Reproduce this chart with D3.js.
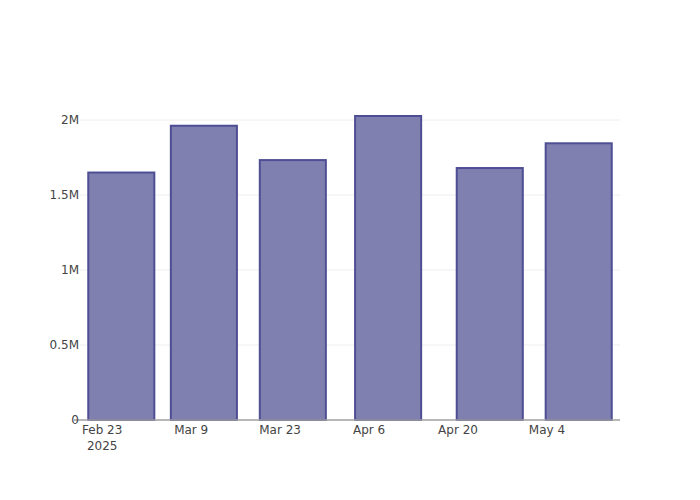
<!DOCTYPE html>
<html><head><meta charset="utf-8">
<script src="https://cdn.jsdelivr.net/npm/d3@7"></script>
<style>body{margin:0;background:#fff}svg text{font-family:"DejaVu Sans",Verdana,sans-serif}</style>
</head><body><svg id="c" width="700" height="500"></svg>
<script>
const dates = ["2025-02-26","2025-03-11","2025-03-25","2025-04-09","2025-04-25","2025-05-09"];
const values = [1650000,1962000,1733000,2027000,1680000,1845000];
const yTicks = [0,500000,1000000,1500000,2000000];
const yTickLabels = ["0","0.5M","1M","1.5M","2M"];
const xTicks = ["2025-02-23","2025-03-09","2025-03-23","2025-04-06","2025-04-20","2025-05-04"];
const xTickLabels = ["Feb 23","Mar 9","Mar 23","Apr 6","Apr 20","May 4"];

const DAY = 86400000;
const parse = d3.utcParse("%Y-%m-%d");
const d = dates.map(parse);
const svg = d3.select("#c");
const L=80,R=620,T=100,B=420;
const gapDays = 13;
const x = d3.scaleUtc()
  .domain([new Date(+d[0]-gapDays/2*DAY), new Date(+d[d.length-1]+gapDays/2*DAY)])
  .range([L,R]);
const y = d3.scaleLinear().domain([0, d3.max(values)*1.0526]).range([B,T]);

// grid
svg.append("g").selectAll("line").data(yTicks.slice(1)).join("line")
  .attr("x1",L).attr("x2",R).attr("y1",v=>y(v)).attr("y2",v=>y(v))
  .attr("stroke","#eee").attr("stroke-width",1);

// bars
const bw = x(new Date(+d[0]+gapDays*0.8*DAY)) - x(d[0]);
svg.append("g").selectAll("rect").data(values).join("rect")
  .attr("x",(v,i)=>x(d[i])-bw/2).attr("width",bw)
  .attr("y",v=>y(v)).attr("height",v=>B-y(v))
  .attr("fill","rgb(128,128,176)")
  .attr("stroke","rgb(78,78,148)").attr("stroke-width",2);

// axis line
svg.append("line").attr("x1",74).attr("x2",R).attr("y1",B).attr("y2",B)
  .attr("stroke","#a0a0a0").attr("stroke-width",1.5);

// y labels
svg.append("g").selectAll("text").data(yTicks).join("text")
  .attr("x",79).attr("y",v=>y(v)+4).attr("text-anchor","end")
  .attr("font-size",12).attr("fill","#444").text((v,i)=>yTickLabels[i]);

// x labels
const xg = svg.append("g");
xTicks.forEach((t,i)=>{
  const px = x(parse(t));
  xg.append("text").attr("x",px).attr("y",B+14).attr("text-anchor","middle")
    .attr("font-size",12).attr("fill","#444").text(xTickLabels[i]);
});
xg.append("text").attr("x",x(parse(xTicks[0]))).attr("y",B+30).attr("text-anchor","middle")
  .attr("font-size",12).attr("fill","#444").text("2025");
</script></body></html>
